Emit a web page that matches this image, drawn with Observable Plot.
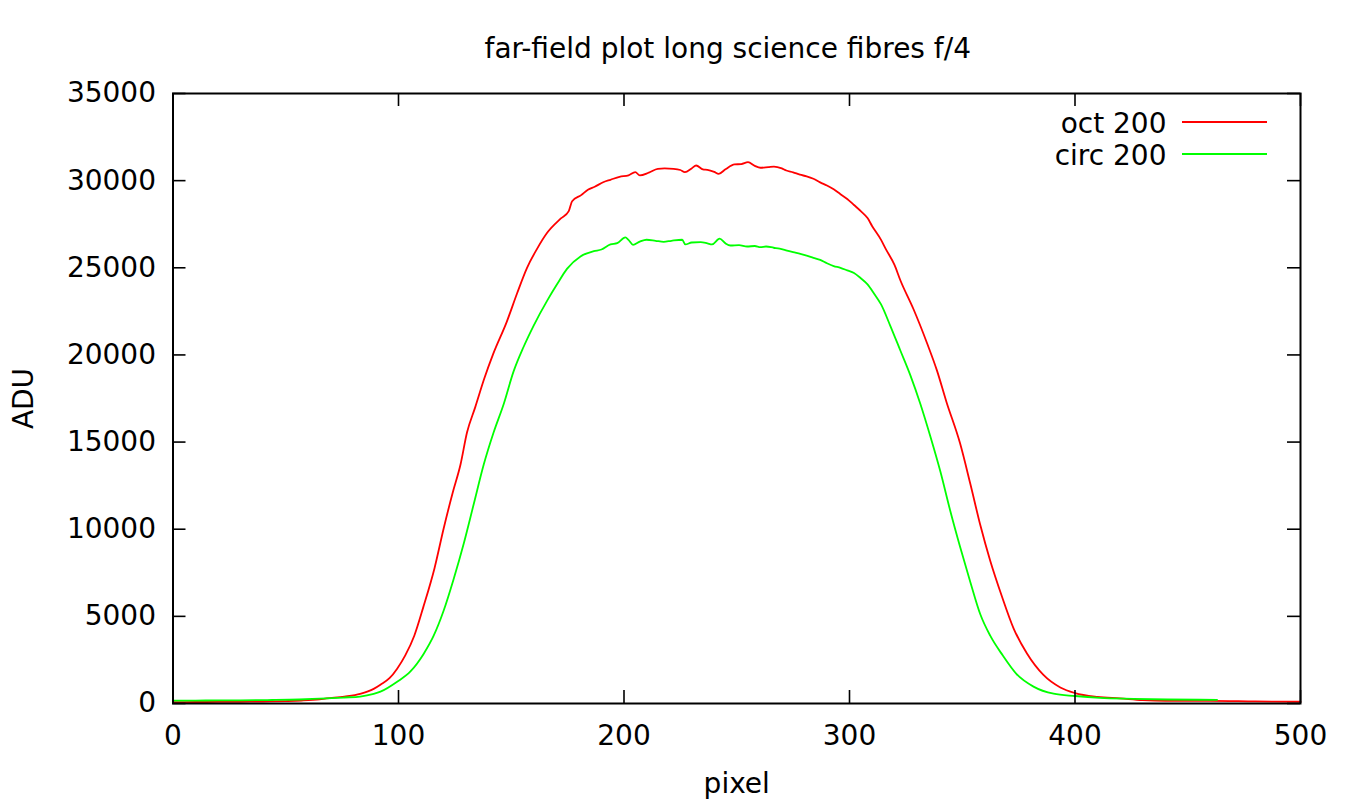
<!DOCTYPE html>
<html><head><meta charset="utf-8">
<script src="https://cdn.jsdelivr.net/npm/d3@7"></script>
<script src="https://cdn.jsdelivr.net/npm/@observablehq/plot@0.6"></script>
<style>body{margin:0;background:#fff}</style>
</head><body><div id="chart"></div>
<script>
const titleText = "far-field plot long science fibres f/4";
const xLabel = "pixel";
const yLabel = "ADU";
const seriesNames = ["oct 200", "circ 200"];
const seriesColors = ["#ff0000", "#00ff00"];
const xTicks = [0, 100, 200, 300, 400, 500];
const yTicks = [0, 5000, 10000, 15000, 20000, 25000, 30000, 35000];

const octPixel = [0,10,20,30,40,50,57,65,68,76,83,89,92,96,99.4,103,107,111,116,120,124,127.5,130.4,134,138,142,148,152.6,157,161.5,166,172,175.5,177,181,184,187,191,194,198,202,205,207,211,215,218,222,225,227,230,232,235,237,240,242,245,249,252,255,258,260.5,264,266.5,270,272,275,278,281,284,287,290,293,296,299,302,305,308,310,314,316,320,322.5,328.4,334.4,338.8,343,349,353.6,358,362.4,367.6,372.8,378.7,386,393.5,400,410,420,430,440,460,480,500];
const octADU = [80,85,90,100,115,140,170,240,290,400,555,840,1080,1450,2000,2760,3890,5530,7780,10030,12080,13710,15560,16990,18630,20060,21900,23540,25000,26100,27020,27830,28250,28820,29170,29480,29650,29920,30050,30220,30300,30490,30300,30460,30680,30700,30680,30610,30490,30700,30870,30650,30620,30500,30390,30650,30930,30950,31060,30850,30740,30780,30810,30700,30580,30480,30340,30250,30110,29900,29720,29500,29220,28950,28600,28250,27850,27400,26600,26100,25150,24300,22620,20670,19100,17300,14940,12590,10240,8190,6140,4300,2870,1640,920,600,380,290,190,150,150,120,100];

const circPixel = [0,10,20,30,44,56,68,76,83,89,92,99.4,105.3,111.2,115.6,120,124.5,129,133.4,137.8,142.2,146.7,151,155.5,160,166,170.3,174.8,180.7,186.6,190,194,197,200.6,202,204,207,210,214,217.6,221,225.8,227.2,230,234,237,239,242.4,245,247.2,251,254.6,258,260.5,263,266.4,269,272.3,275,278.2,281,284,287,290,293,296,299,302,305,308,311,314,318,322.5,327,331.4,335.8,340.3,344.7,349,353.6,358,362.4,368,374,381.6,390.5,400,411,426,441,463];
const circADU = [170,170,175,180,200,230,290,345,400,555,680,1250,1840,2860,3890,5320,7160,9210,11460,13710,15560,17200,19040,20470,21700,23130,24050,24950,25650,25950,26050,26340,26410,26740,26600,26320,26500,26610,26550,26490,26550,26610,26340,26450,26470,26400,26340,26670,26400,26280,26300,26220,26250,26180,26220,26150,26100,25990,25900,25800,25700,25570,25450,25260,25100,25000,24850,24700,24400,24050,23500,22900,21700,20270,18830,17200,15350,13310,11050,9010,6960,5120,3890,2750,1700,970,560,430,325,270,230,210];

const W = 1346, H = 803, mL = 172.5, mR = 46, mT = 93, mB = 100;
const fw = W - mL - mR, fh = H - mT - mB, tk = 13;
const oct = octPixel.map((x, i) => ({x, y: octADU[i]}));
const circ = circPixel.map((x, i) => ({x, y: circADU[i]}));

const chart = Plot.plot({
  width: W, height: H,
  marginLeft: mL, marginRight: mR, marginTop: mT, marginBottom: mB,
  style: {fontFamily: "DejaVu Sans", fontSize: "28px", background: "white", color: "black"},
  x: {domain: [0, 500]},
  y: {domain: [0, 35000]},
  marks: [
    Plot.line(oct, {x: "x", y: "y", stroke: seriesColors[0], strokeWidth: 1.8, curve: "monotone-x"}),
    Plot.line(circ, {x: "x", y: "y", stroke: seriesColors[1], strokeWidth: 1.8, curve: "monotone-x"}),
    Plot.ruleX(xTicks, {x: d => d, insetTop: fh - tk, strokeWidth: 1.6}),
    Plot.ruleX(xTicks, {x: d => d, insetBottom: fh - tk, strokeWidth: 1.6}),
    Plot.ruleY(yTicks, {y: d => d, insetRight: fw - tk, strokeWidth: 1.6}),
    Plot.ruleY(yTicks, {y: d => d, insetLeft: fw - tk, strokeWidth: 1.6}),
    Plot.frame({strokeWidth: 2}),
    Plot.axisX({ticks: xTicks, tickSize: 0, tickPadding: 22, label: null, tickFormat: "d"}),
    Plot.axisY({ticks: yTicks, tickSize: 0, tickPadding: 17, label: null, tickFormat: "d"}),
    Plot.text([titleText], {text: d => d, frameAnchor: "top", dx: -9, dy: -36, lineAnchor: "bottom"}),
    Plot.text([xLabel], {text: d => d, frameAnchor: "bottom", dy: 89, lineAnchor: "bottom"}),
    Plot.text([yLabel], {text: d => d, frameAnchor: "left", textAnchor: "middle", dx: -140.5, rotate: -90, lineAnchor: "bottom"}),
    Plot.text([seriesNames[0]], {text: d => d, frameAnchor: "top-right", dx: -134, dy: 39, lineAnchor: "bottom", textAnchor: "end"}),
    Plot.text([seriesNames[1]], {text: d => d, frameAnchor: "top-right", dx: -134, dy: 71, lineAnchor: "bottom", textAnchor: "end"})
  ]
});
document.getElementById("chart").appendChild(chart);

// legend sample lines
const svg = d3.select(chart);
seriesColors.forEach((c, i) => {
  svg.append("line")
    .attr("x1", W - mR - 118).attr("x2", W - mR - 33)
    .attr("y1", mT + 29 + 32 * i).attr("y2", mT + 29 + 32 * i)
    .attr("stroke", c).attr("stroke-width", 1.8);
});
</script>
</body></html>
